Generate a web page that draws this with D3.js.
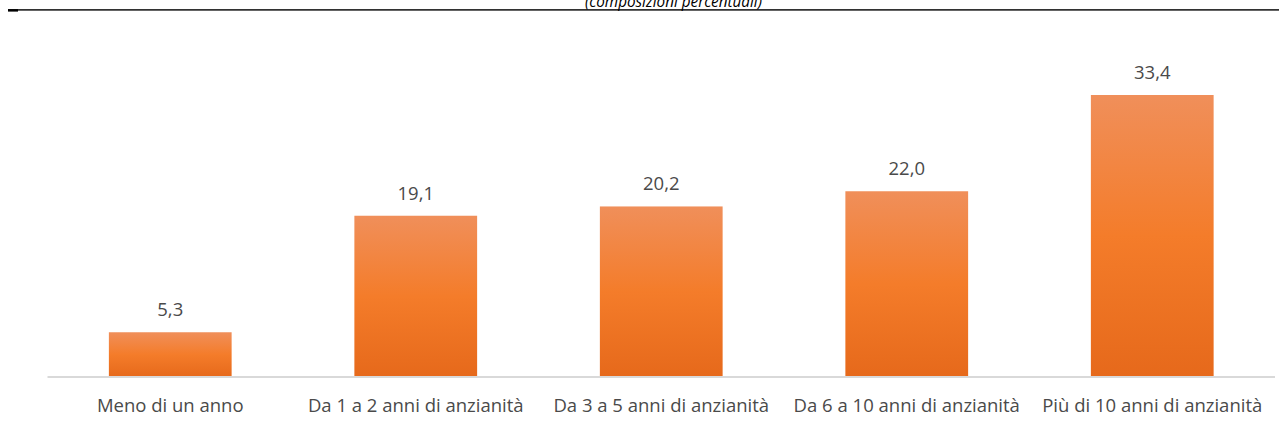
<!DOCTYPE html>
<html><head><meta charset="utf-8">
<script src="https://cdn.jsdelivr.net/npm/d3@7"></script>
<style>body{margin:0;background:#fff;}svg{display:block;}</style>
</head><body>
<svg id="c" width="1279" height="429"></svg>
<script>
const categories = ["Meno di un anno","Da 1 a 2 anni di anzianità","Da 3 a 5 anni di anzianità","Da 6 a 10 anni di anzianità","Più di 10 anni di anzianità"];
const values = [5.3, 19.1, 20.2, 22.0, 33.4];
const title = "(composizioni percentuali)";

const svg = d3.select("#c");
const W = 1279, H = 429;
const x = d3.scaleBand().domain(categories).range([47.5, 1275]).paddingInner(0.5).paddingOuter(0.25);
const y = d3.scaleLinear().domain([0, 33.4]).range([377, 95]);

const defs = svg.append("defs");
const g = defs.append("linearGradient").attr("id","gr").attr("x1",0).attr("y1",0).attr("x2",0).attr("y2",1);
g.append("stop").attr("offset","0%").attr("stop-color","#f08f5a");
g.append("stop").attr("offset","50%").attr("stop-color","#f47c2a");
g.append("stop").attr("offset","100%").attr("stop-color","#e6691b");

// header line and title
svg.append("rect").attr("x",8).attr("y",9.2).attr("width",W-8).attr("height",1.4).attr("fill","#000");
svg.append("rect").attr("x",8).attr("y",9.2).attr("width",10).attr("height",2.4).attr("fill","#000");
svg.append("text").attr("x",673.5).attr("y",6.5).attr("text-anchor","middle")
  .attr("font-family","'Open Sans', sans-serif").attr("font-style","italic").attr("font-size",17)
  .attr("fill","#000").attr("textLength",177).attr("lengthAdjust","spacingAndGlyphs").text(title);

svg.selectAll("rect.bar").data(values).join("rect").attr("class","bar")
  .attr("x",(d,i)=>x(categories[i])).attr("width",x.bandwidth())
  .attr("y",d=>y(d)).attr("height",d=>y(0)-y(d)).attr("fill","url(#gr)");

svg.append("line").attr("x1",47.5).attr("x2",1275).attr("y1",377).attr("y2",377).attr("stroke","#d9d9d9").attr("stroke-width",2);

svg.selectAll("text.val").data(values).join("text").attr("class","val")
  .attr("x",(d,i)=>x(categories[i])+x.bandwidth()/2).attr("y",d=>y(d)-16)
  .attr("text-anchor","middle").attr("font-family","'Open Sans', sans-serif").attr("font-size",18.5).attr("fill","#4a4a4a")
  .text(d=>d.toFixed(1).replace(".",","));

svg.selectAll("text.cat").data(categories).join("text").attr("class","cat")
  .attr("x",d=>x(d)+x.bandwidth()/2).attr("y",412)
  .attr("text-anchor","middle").attr("font-family","'Open Sans', sans-serif").attr("font-size",18.5).attr("fill","#4a4a4a")
  .text(d=>d);
</script>
</body></html>
